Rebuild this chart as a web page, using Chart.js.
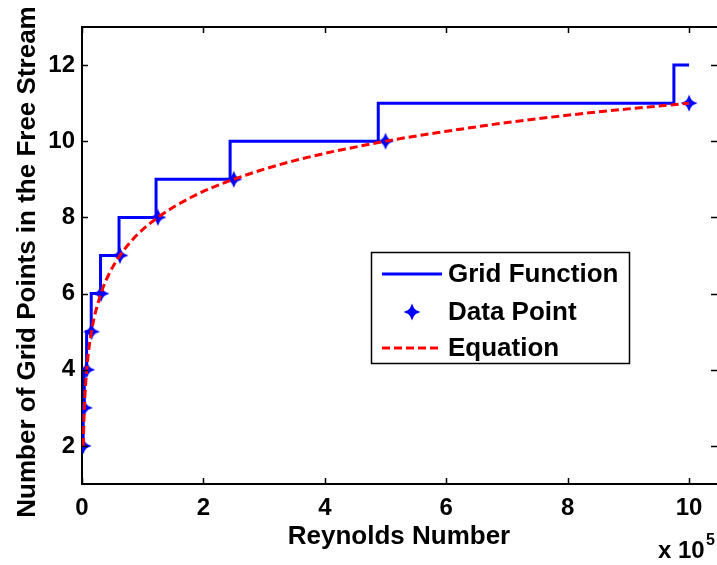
<!DOCTYPE html>
<html>
<head>
<meta charset="utf-8">
<script src="https://cdn.jsdelivr.net/npm/chart.js@4.4.1/dist/chart.umd.min.js"></script>
<style>
  html, body { margin: 0; padding: 0; background: #fff; }
  canvas { display: block; }
</style>
</head>
<body>
<canvas id="chart" width="717" height="565"></canvas>
<script>
// Reynolds numbers are in units of 1e5
const dataRe = [0.0195, 0.039, 0.078, 0.156, 0.3125, 0.625, 1.25, 2.5, 5, 10];
const dataN = [2, 3, 4, 5, 6, 7, 8, 9, 10, 11];

// grid function (stair steps)
const stepRe = [0.0195, 0.0195, 0.038, 0.038, 0.076, 0.076, 0.152, 0.152, 0.305, 0.305,
  0.61, 0.61, 1.22, 1.22, 2.44, 2.44, 4.88, 4.88, 9.75, 9.75, 10];
const stepN = [2, 3, 3, 4, 4, 5, 5, 6, 6, 7, 7, 8, 8, 9, 9, 10, 10, 11, 11, 12, 12];

// equation curve
const eqRe = [0.0195, 0.039, 0.078, 0.156, 0.3125, 0.45, 0.625, 0.9, 1.25, 1.8, 2.5, 3.5, 5, 6, 7, 8.5, 10];
const eqN = [2, 3, 4, 5, 6, 6.53, 7, 7.53, 8, 8.53, 9, 9.49, 10, 10.26, 10.49, 10.77, 11];

const xTicks = [0, 2, 4, 6, 8, 10];
const yTicks = [2, 4, 6, 8, 10, 12];

const FONT = '"Liberation Sans", Arial, sans-serif';
const BLUE = '#0000ff';
const RED = '#ff0000';

const zip = (xs, ys) => xs.map((x, i) => ({ x: x, y: ys[i] }));

// four-point star marker like the matlab one
function makeStar() {
  const c = document.createElement('canvas');
  c.width = 18; c.height = 18;
  const g = c.getContext('2d');
  g.translate(9, 9);
  g.fillStyle = BLUE;
  g.beginPath();
  g.moveTo(0, -8.5); g.lineTo(2.6, -2.6); g.lineTo(8.5, 0); g.lineTo(2.6, 2.6);
  g.lineTo(0, 8.5); g.lineTo(-2.6, 2.6); g.lineTo(-8.5, 0); g.lineTo(-2.6, -2.6);
  g.closePath();
  g.fill();
  g.beginPath();
  g.arc(0, 0, 4.2, 0, Math.PI * 2);
  g.fill();
  return c;
}
const star = makeStar();

const decorations = {
  id: 'decorations',
  afterDatasetsDraw(chart) {
    const ctx = chart.ctx;
    const area = chart.chartArea;
    const xs = chart.scales.x, ys = chart.scales.y;
    ctx.save();

    // top border
    ctx.strokeStyle = '#000';
    ctx.lineWidth = 2;
    ctx.beginPath();
    ctx.moveTo(area.left, area.top);
    ctx.lineTo(area.right, area.top);
    ctx.stroke();

    // inward ticks on all sides
    ctx.lineWidth = 1.5;
    const tl = 6;
    ctx.beginPath();
    xTicks.forEach(v => {
      const px = Math.round(xs.getPixelForValue(v)) + 0.5;
      ctx.moveTo(px, area.bottom); ctx.lineTo(px, area.bottom - tl);
      ctx.moveTo(px, area.top); ctx.lineTo(px, area.top + tl);
    });
    yTicks.forEach(v => {
      const py = Math.round(ys.getPixelForValue(v)) + 0.5;
      ctx.moveTo(area.left, py); ctx.lineTo(area.left + tl, py);
      ctx.moveTo(area.right, py); ctx.lineTo(area.right - tl, py);
    });
    ctx.stroke();

    // legend box
    const lx = 371, ly = 252, lw = 258, lh = 111;
    ctx.fillStyle = '#fff';
    ctx.fillRect(lx, ly, lw, lh);
    ctx.lineWidth = 1.5;
    ctx.strokeStyle = '#000';
    ctx.strokeRect(lx + 0.5, ly + 0.5, lw, lh);

    const rows = [274, 312, 348];
    const ds = chart.data.datasets;
    ctx.font = 'bold 26px ' + FONT;
    ctx.textBaseline = 'middle';
    ctx.textAlign = 'left';
    ds.forEach((d, i) => {
      const y = rows[i];
      if (d.showLine) {
        ctx.strokeStyle = d.borderColor;
        ctx.lineWidth = 3;
        ctx.setLineDash(d.borderDash || []);
        ctx.beginPath();
        ctx.moveTo(382, y); ctx.lineTo(442, y);
        ctx.stroke();
        ctx.setLineDash([]);
      } else {
        ctx.drawImage(star, 412 - 9, y - 9);
      }
      ctx.fillStyle = '#000';
      ctx.fillText(d.label, 448, y + 1);
    });

    // axis titles
    ctx.fillStyle = '#000';
    ctx.font = 'bold 26px ' + FONT;
    ctx.textAlign = 'center';
    ctx.textBaseline = 'alphabetic';
    ctx.fillText('Reynolds Number', 399, 544);

    ctx.save();
    ctx.translate(35, 262);
    ctx.rotate(-Math.PI / 2);
    ctx.fillText('Number of Grid Points in the Free Stream', 0, 0);
    ctx.restore();

    // exponent
    ctx.textAlign = 'left';
    ctx.font = 'bold 24px ' + FONT;
    ctx.fillText('x 10', 658, 558);
    ctx.font = 'bold 16px ' + FONT;
    ctx.fillText('5', 706, 545);

    ctx.restore();
  }
};

new Chart(document.getElementById('chart'), {
  type: 'scatter',
  data: {
    datasets: [
      {
        label: 'Grid Function',
        data: zip(stepRe, stepN),
        showLine: true,
        borderColor: BLUE,
        borderWidth: 3,
        pointRadius: 0,
        tension: 0,
        order: 3
      },
      {
        label: 'Data Point',
        data: zip(dataRe, dataN),
        showLine: false,
        pointStyle: star,
        pointRadius: 9,
        order: 2
      },
      {
        label: 'Equation',
        data: zip(eqRe, eqN),
        showLine: true,
        borderColor: RED,
        borderWidth: 3,
        borderDash: [8, 4],
        pointRadius: 0,
        cubicInterpolationMode: 'monotone',
        order: 1
      }
    ]
  },
  options: {
    responsive: false,
    animation: false,
    layout: { autoPadding: false, padding: { top: 27, left: 0, right: 0, bottom: 0 } },
    plugins: {
      legend: { display: false },
      tooltip: { enabled: false }
    },
    scales: {
      x: {
        type: 'linear',
        min: 0,
        max: 10.46,
        afterFit: s => { s.height = 81; s.paddingLeft = 0; s.paddingRight = 0; },
        afterBuildTicks: s => { s.ticks = xTicks.map(v => ({ value: v })); },
        grid: { display: false, drawTicks: false },
        border: { display: true, color: '#000', width: 2 },
        ticks: {
          padding: 10,
          color: '#000',
          font: { family: FONT, size: 24, weight: 'bold' },
          maxRotation: 0
        }
      },
      y: {
        type: 'linear',
        min: 1,
        max: 13,
        afterFit: s => { s.width = 82; s.paddingTop = 0; s.paddingBottom = 0; },
        afterBuildTicks: s => { s.ticks = yTicks.map(v => ({ value: v })); },
        grid: { display: false, drawTicks: false },
        border: { display: true, color: '#000', width: 2 },
        ticks: {
          padding: 7,
          color: '#000',
          font: { family: FONT, size: 24, weight: 'bold' }
        }
      }
    }
  },
  plugins: [decorations]
});
</script>
</body>
</html>
